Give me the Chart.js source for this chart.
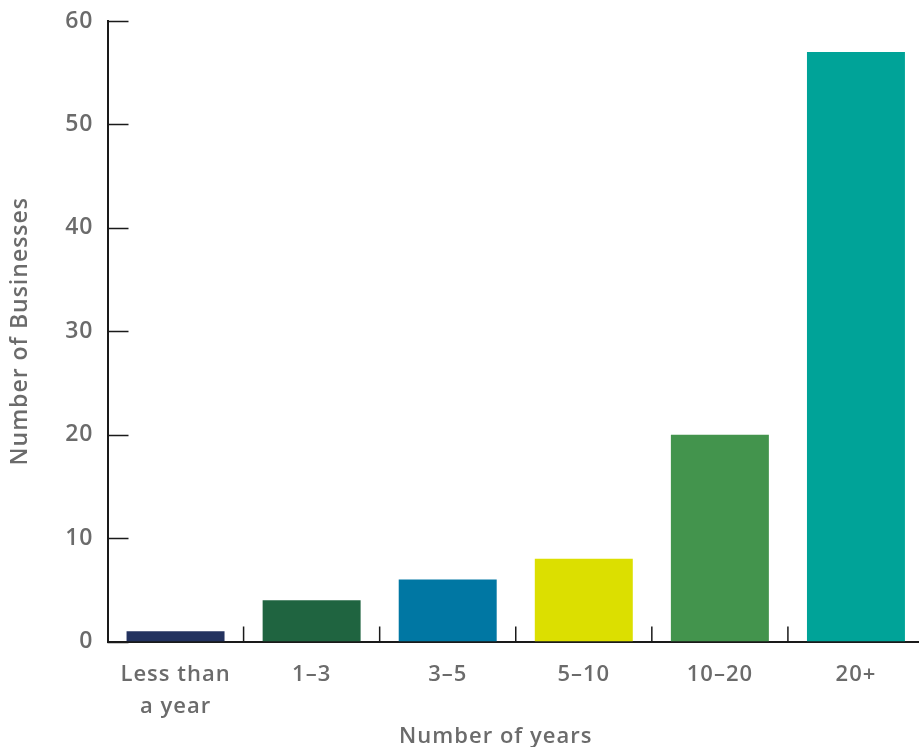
<!DOCTYPE html>
<html>
<head>
<meta charset="utf-8">
<title>Number of Businesses by Number of years</title>
<script src="https://cdn.jsdelivr.net/npm/chart.js@4/dist/chart.umd.min.js"></script>
<style>
  html, body { margin: 0; padding: 0; background: #ffffff; overflow: hidden; }
  #wrap { position: relative; width: 924px; height: 747px; }
</style>
</head>
<body>
<div id="wrap"><canvas id="chart"></canvas></div>
<script>
// Businesses grouped by how many years they have been operating
const categories = [['Less than', 'a year'], '1–3', '3–5', '5–10', '10–20', '20+'];
const businesses = [1, 4, 6, 8, 20, 57];
const barColors = ['#23325f', '#1f6440', '#0077a3', '#dcdf00', '#43944d', '#00a398'];
const yTicks = [0, 10, 20, 30, 40, 50, 60];
const yTitle = 'Number of Businesses';
const xTitle = 'Number of years';

const TEXT = '#6b6b6b';
const FONT = 'Open Sans';

// Slightly tracked-out lettering, reapplied whenever the context is reset
const tracking = {
  id: 'tracking',
  beforeLayout(chart) { chart.ctx.letterSpacing = '1px'; },
  beforeDraw(chart) { chart.ctx.letterSpacing = '1px'; }
};

// Short tick marks pointing into the plot, plus the x-axis title
const innerTicks = {
  id: 'innerTicks',
  afterDraw(chart) {
    const { ctx, chartArea, scales } = chart;
    const x = scales.x, y = scales.y;
    ctx.save();
    ctx.strokeStyle = '#1a1a1a';
    ctx.lineWidth = 1.5;
    ctx.beginPath();
    y.ticks.forEach(t => {
      const py = Math.round(y.getPixelForValue(t.value)) + 0.5;
      ctx.moveTo(chartArea.left, py);
      ctx.lineTo(chartArea.left + 21, py);
    });
    for (let i = 0; i < x.ticks.length - 1; i++) {
      const px = (x.getPixelForTick(i) + x.getPixelForTick(i + 1)) / 2;
      ctx.moveTo(px, chartArea.bottom);
      ctx.lineTo(px, chartArea.bottom - 15);
    }
    ctx.stroke();

    ctx.letterSpacing = '1px';
    ctx.fillStyle = TEXT;
    ctx.font = '600 22px "' + FONT + '"';
    ctx.textAlign = 'center';
    ctx.textBaseline = 'alphabetic';
    ctx.fillText(xTitle, (chartArea.left + chart.width) / 2 - 20, 743);
    ctx.restore();
  }
};

new Chart(document.getElementById('chart'), {
  type: 'bar',
  data: {
    labels: categories,
    datasets: [{
      data: businesses,
      backgroundColor: barColors,
      borderWidth: 0,
      barPercentage: 0.72,
      categoryPercentage: 1.0
    }]
  },
  options: {
    responsive: true,
    maintainAspectRatio: false,
    animation: false,
    events: [],
    layout: { padding: { top: 21, right: 0, bottom: 0, left: 0 } },
    plugins: {
      legend: { display: false },
      tooltip: { enabled: false }
    },
    scales: {
      x: {
        offset: true,
        grid: { display: false, drawTicks: false },
        border: { display: true, color: '#1a1a1a', width: 2 },
        ticks: {
          color: TEXT,
          padding: 17,
          maxRotation: 0,
          autoSkip: false,
          font: { family: FONT, size: 22, weight: '600', lineHeight: 1.45 }
        },
        afterFit(scale) { scale.height = 105.5; }
      },
      y: {
        min: 0,
        max: 60,
        afterBuildTicks(scale) { scale.ticks = yTicks.map(v => ({ value: v })); },
        grid: { display: false, drawTicks: false },
        border: { display: true, color: '#1a1a1a', width: 2 },
        ticks: {
          color: TEXT,
          padding: 14,
          font: { family: FONT, size: 23, weight: '600' }
        },
        title: {
          display: true,
          text: yTitle,
          color: TEXT,
          padding: { top: 9, bottom: 0 },
          font: { family: FONT, size: 23, weight: '600', lineHeight: 1.0 }
        },
        afterFit(scale) {
          scale.width = 107.5;
          scale.paddingTop = 0;
          scale.paddingBottom = 0;
        }
      }
    }
  },
  plugins: [tracking, innerTicks]
});
</script>
</body>
</html>
